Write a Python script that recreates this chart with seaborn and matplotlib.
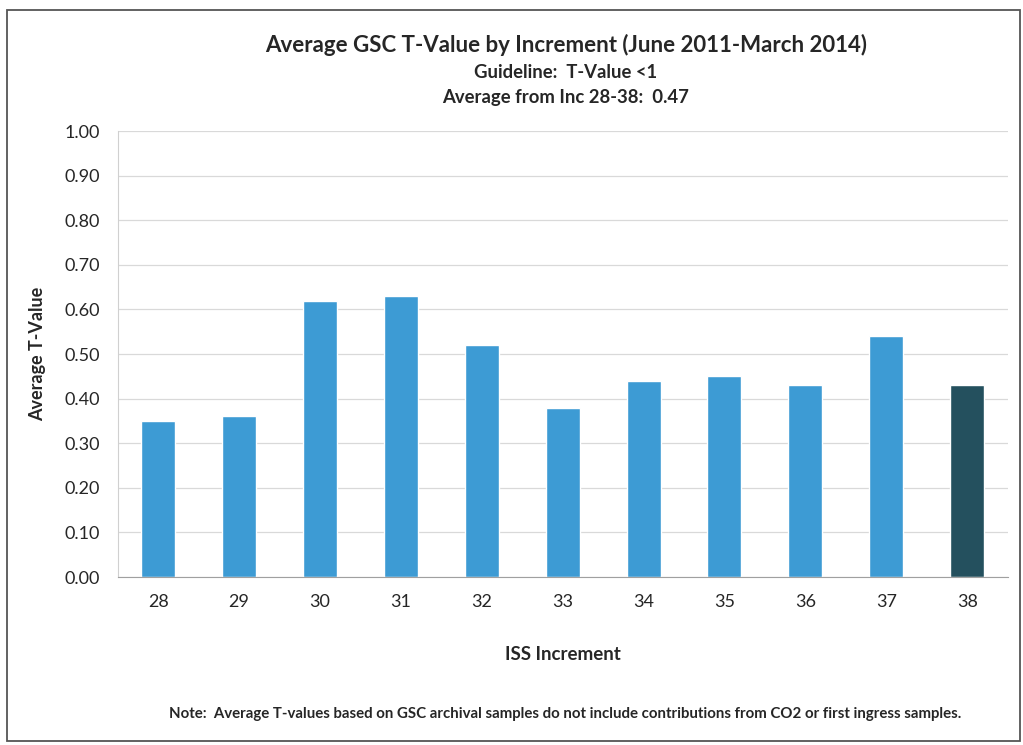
import numpy as np
import pandas as pd
import matplotlib
matplotlib.use("Agg")
import matplotlib.pyplot as plt
import seaborn as sns
from matplotlib.patches import Rectangle

# values
increments = ["28", "29", "30", "31", "32", "33", "34", "35", "36", "37", "38"]
t_values = [0.35, 0.36, 0.62, 0.63, 0.52, 0.38, 0.44, 0.45, 0.43, 0.54, 0.43]
bar_colors = ["#3d9bd4"] * 10 + ["#24505e"]
y_ticks = [0.0, 0.1, 0.2, 0.3, 0.4, 0.5, 0.6, 0.7, 0.8, 0.9, 1.0]

df = pd.DataFrame({"inc": increments, "tval": t_values})

sns.set_style("white")
plt.rcParams["font.family"] = ["Lato", "DejaVu Sans"]

fig = plt.figure(figsize=(10.23, 7.45), dpi=100)
ax = fig.add_axes([0.115, 0.2255, 0.87, 0.5985])

sns.barplot(data=df, x="inc", y="tval", hue="inc", palette=bar_colors,
            legend=False, width=0.42, ax=ax, saturation=1)

ax.set_xlim(-0.5, 10.5)
ax.set_ylim(0, 1.0)
ax.set_yticks(y_ticks)
ax.set_yticklabels(["{:.2f}".format(v) for v in y_ticks], fontsize=13)
ax.yaxis.grid(True, color="#d9d9d9", lw=0.9)
ax.set_axisbelow(True)

# category separators on the x axis
ax.set_xticks(np.arange(-0.5, 11, 1), minor=True)
ax.tick_params(axis="x", which="major", length=0, labelsize=13, pad=12)
ax.tick_params(axis="x", which="minor", length=5, color="#a0a0a0", direction="out")
ax.tick_params(axis="y", length=5, color="#c0c0c0", direction="out", pad=8)

for side in ["top", "right"]:
    ax.spines[side].set_visible(False)
ax.spines["left"].set_color("#d0d0d0")
ax.spines["bottom"].set_color("#a0a0a0")

ax.set_xlabel("ISS Increment", fontsize=13.5, fontweight="bold", labelpad=26)
ax.set_ylabel("Average T-Value", fontsize=13, fontweight="bold", labelpad=13)

fig.text(0.553, 0.940, "Average GSC T-Value by Increment (June 2011-March 2014)",
         ha="center", va="center", fontsize=16, fontweight="bold")
fig.text(0.553, 0.903, "Guideline:  T-Value <1",
         ha="center", va="center", fontsize=13.3, fontweight="bold")
fig.text(0.553, 0.869, "Average from Inc 28-38:  0.47",
         ha="center", va="center", fontsize=13.3, fontweight="bold")
fig.text(0.552, 0.042,
         "Note:  Average T-values based on GSC archival samples do not include contributions from CO2 or first ingress samples.",
         ha="center", va="center", fontsize=10.8, fontweight="bold")

# outer chart frame
fig.patches.append(Rectangle((0.007, 0.006), 0.990, 0.980, transform=fig.transFigure,
                             fill=False, edgecolor="#555555", lw=1.3))

fig.savefig("out.png", dpi=100)
